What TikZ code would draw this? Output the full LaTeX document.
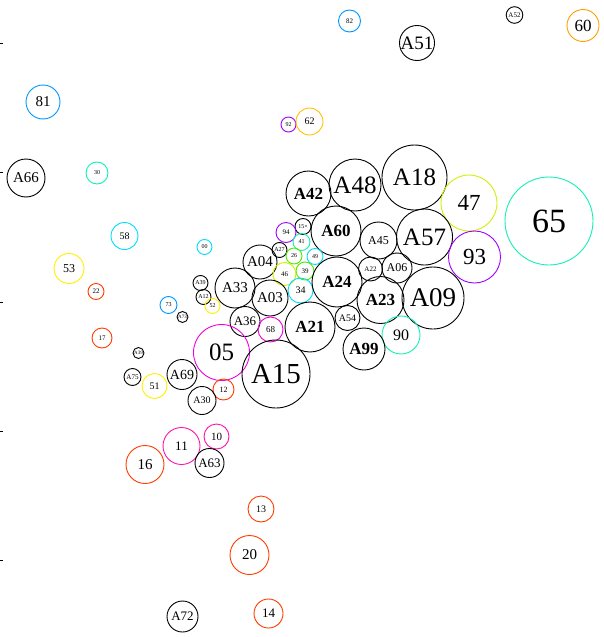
\documentclass[tikz,border=0pt]{standalone}
\usepackage{fontspec}
\setmainfont{Liberation Serif}
\definecolor{cblue}{RGB}{0,150,255}
\definecolor{ccyan}{RGB}{0,220,255}
\definecolor{caqua}{RGB}{20,240,180}
\definecolor{cgreen}{RGB}{80,235,0}
\definecolor{cyellow}{RGB}{255,240,0}
\definecolor{cygreen}{RGB}{210,240,0}
\definecolor{corange}{RGB}{255,160,0}
\definecolor{cgold}{RGB}{255,195,0}
\definecolor{cred}{RGB}{255,60,0}
\definecolor{cmag}{RGB}{240,0,220}
\definecolor{cpink}{RGB}{255,20,170}
\definecolor{cpurple}{RGB}{160,0,255}
\newcommand\bub[7]{\node[bub,draw=#5,minimum size={2*#4pt},font={\fontsize{#6}{#6}\selectfont}] (#1) at (#2pt,-#3pt) {#7};}
\begin{document}
\begin{tikzpicture}[bub/.style={circle,inner sep=0pt,line width=0.9pt}]
\useasboundingbox[fill=white] (0,0) rectangle (603pt,-637pt);
\foreach \ty in {43,172.5,302,431,560} \draw[line width=0.8pt] (0,-\ty pt) -- (2.5pt,-\ty pt);
\bub{n82}{349.5}{21}{11}{cblue}{7}{82}
\bub{nA51}{417}{43}{16.5}{black}{19}{A51}
\bub{nA52}{514.5}{15}{8.3}{black}{7}{A52}
\bub{n60}{583}{25.5}{16}{corange}{17}{60}
\bub{n81}{43}{102}{17}{cblue}{15}{81}
\bub{nA66}{26}{178}{19}{black}{15}{A66}
\bub{n30}{97}{173}{11}{caqua}{6}{30}
\bub{n92}{288.5}{124.5}{7.5}{cpurple}{6}{92}
\bub{n62}{309.5}{121.5}{13.5}{cgold}{10}{62}
\bub{nA42}{308.5}{193.5}{22.5}{black}{17}{\bfseries A42}
\bub{nA48}{355}{185}{26}{black}{25}{A48}
\bub{nA18}{414.5}{177.5}{32.5}{black}{25}{A18}
\bub{n47}{469}{203}{28}{cygreen}{23}{47}
\bub{n65}{549}{221}{44}{caqua}{34}{65}
\bub{n15x}{303}{226.5}{8}{black}{6}{15×}
\bub{n94}{286}{232.5}{10}{cpurple}{7}{94}
\bub{nA60}{336}{231}{25}{black}{17}{\bfseries A60}
\bub{nA45}{378.5}{240.5}{18.5}{black}{12}{A45}
\bub{nA57}{424.5}{237}{28}{black}{25}{A57}
\bub{n93}{474.5}{257}{26}{cpurple}{23}{93}
\bub{n41}{301.5}{242}{8.5}{caqua}{6}{41}
\bub{nA27}{279.5}{250}{7.5}{black}{6}{A27}
\bub{n26}{294}{256}{8}{cgreen}{6}{26}
\bub{n49}{315}{256.5}{8}{ccyan}{6}{49}
\bub{n58}{124.5}{236}{13.5}{ccyan}{10}{58}
\bub{n00}{204.5}{247}{7.5}{ccyan}{6}{00}
\bub{n53}{69}{268.5}{15}{cyellow}{12}{53}
\bub{n22}{96}{291.5}{8}{cred}{7}{22}
\bub{nA04}{260}{262}{17}{black}{15}{A04}
\bub{n39}{305}{271}{9}{cgreen}{7}{39}
\bub{n46}{284.5}{274}{11.5}{cygreen}{7}{46}
\bub{n34}{300.5}{290.5}{12.5}{ccyan}{10}{34}
\bub{nA24}{337}{282}{25}{black}{17}{\bfseries A24}
\bub{nA22}{370.5}{269}{12}{black}{7}{A22}
\bub{nA06}{397}{268}{15}{black}{12}{A06}
\bub{nA09}{433}{298}{31}{black}{27}{A09}
\bub{nA23}{380.5}{300}{23.5}{black}{17}{\bfseries A23}
\bub{nA33}{235}{288}{20}{black}{15}{A33}
\bub{nA03}{270}{298}{18}{black}{15}{A03}
\bub{nA39}{200.5}{283}{7.5}{black}{6}{A39}
\bub{nA12}{203.5}{297}{7.5}{black}{6}{A12}
\bub{n52}{212.5}{306}{7.5}{cyellow}{6}{52}
\bub{n73}{168.5}{305}{8.5}{cblue}{6}{73}
\bub{nA73}{182.5}{317}{5.5}{black}{5}{A73}
\bub{nA36}{245}{321.5}{15}{black}{13}{A36}
\bub{n68}{270.5}{329.5}{12.5}{cmag}{9}{68}
\bub{nA21}{310}{327}{25}{black}{17}{\bfseries A21}
\bub{nA54}{347.5}{318}{12.5}{black}{10}{A54}
\bub{n90}{401}{335}{19}{caqua}{16}{90}
\bub{nA99}{364}{349}{21}{black}{17}{\bfseries A99}
\bub{n17}{102}{338}{10}{cred}{7}{17}
\bub{nA39b}{138.5}{353}{5.5}{black}{5}{A39}
\bub{n05}{221.5}{352.5}{28}{cmag}{25}{05}
\bub{nA15}{276}{374}{34}{black}{29}{A15}
\bub{nA75}{132.5}{377}{8.5}{black}{7}{A75}
\bub{n51}{154.5}{386}{12.5}{cyellow}{10}{51}
\bub{nA69}{182}{374.5}{15}{black}{14}{A69}
\bub{n12}{223.5}{389.5}{10.5}{cred}{8}{12}
\bub{nA30}{202}{400.5}{14}{black}{10}{A30}
\bub{n10}{216.5}{436.5}{12.5}{cpink}{11}{10}
\bub{n11}{181.5}{446}{18.5}{cpink}{13}{11}
\bub{nA63}{209.5}{463}{14.5}{black}{13}{A63}
\bub{n16}{145}{464.5}{19}{cred}{15}{16}
\bub{n13}{261}{509}{13}{cred}{10}{13}
\bub{n20}{249.5}{555}{19.5}{cred}{15}{20}
\bub{nA72}{182.5}{616.5}{15.5}{black}{13}{A72}
\bub{n14}{268.5}{613.5}{14.5}{cred}{13}{14}
\end{tikzpicture}
\end{document}
